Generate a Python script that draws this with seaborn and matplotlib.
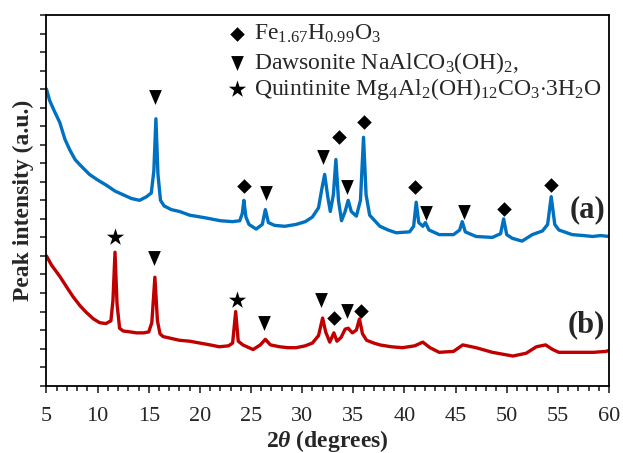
import matplotlib
matplotlib.use("Agg")
import matplotlib.pyplot as plt
import pandas as pd
import seaborn as sns

# XRD pattern (a): 2θ in degrees and intensity (arbitrary units, stacked offset)
two_theta_a = [5.0, 5.3, 5.7, 6.3, 6.8, 7.3, 7.8, 8.3, 9.2, 10.0, 10.9, 11.7, 12.5, 13.3, 14.1,
               14.8, 15.25, 15.5, 15.7, 15.9, 16.15, 16.5, 17.2, 18.0, 19.0, 20.6, 22.0, 23.2,
               23.9, 24.15, 24.3, 24.5, 24.8, 25.5, 26.1, 26.4, 26.7, 27.3, 28.3, 29.4, 30.3,
               31.0, 31.6, 31.95, 32.2, 32.5, 32.75, 33.05, 33.3, 33.55, 33.85, 34.2, 34.5,
               34.8, 35.3, 35.7, 36.0, 36.25, 36.6, 37.6, 38.4, 39.2, 40.5, 40.9, 41.15, 41.4,
               41.8, 42.05, 42.4, 43.4, 44.8, 45.4, 45.65, 45.95, 47.0, 48.6, 49.4, 49.7, 50.0,
               50.55, 51.5, 52.5, 53.5, 54.0, 54.35, 54.7, 55.1, 56.4, 57.5, 58.4, 59.2, 60.0]
intensity_a = [16.0, 15.4, 14.9, 14.2, 13.3, 12.7, 12.2, 11.9, 11.4, 11.1, 10.8, 10.5, 10.3, 10.1,
               10.0, 10.2, 10.4, 11.6, 14.4, 11.4, 10.0, 9.7, 9.5, 9.4, 9.2, 9.05, 8.9, 8.85,
               8.9, 9.3, 10.0, 9.1, 8.7, 8.45, 8.7, 9.5, 8.8, 8.65, 8.6, 8.7, 8.85,
               9.1, 9.6, 10.7, 11.4, 10.2, 9.4, 10.3, 12.2, 10.0, 8.9, 9.4, 10.0,
               9.4, 9.15, 10.0, 13.4, 10.3, 9.2, 8.6, 8.4, 8.25, 8.3, 8.6, 9.9, 8.8,
               8.6, 8.8, 8.4, 8.15, 8.15, 8.4, 8.85, 8.3, 8.05, 8.0, 8.2, 9.0, 8.15,
               7.95, 7.8, 8.15, 8.35, 8.7, 10.2, 8.7, 8.4, 8.15, 8.1, 8.05, 8.1, 8.05]

# XRD pattern (b)
two_theta_b = [5.0, 5.5, 6.3, 7.0, 7.6, 8.3, 8.9, 9.6, 10.2, 10.8, 11.3, 11.5, 11.7, 11.9, 12.15,
               12.5, 13.2, 13.8, 14.5, 15.0, 15.3, 15.6, 15.85, 16.1, 16.4, 17.2, 18.0, 19.0,
               20.0, 21.0, 21.9, 22.8, 23.2, 23.5, 23.75, 24.2, 25.2, 25.9, 26.4, 26.9, 27.8,
               28.6, 29.4, 30.3, 31.0, 31.6, 32.0, 32.3, 32.7, 33.1, 33.4, 33.8, 34.2, 34.5,
               34.9, 35.3, 35.6, 35.9, 36.3, 37.0, 37.6, 38.7, 39.8, 41.0, 41.8, 42.5, 43.4,
               44.8, 45.7, 47.0, 48.6, 49.6, 50.6, 51.9, 52.9, 53.8, 54.5, 55.1, 57.0, 58.5,
               59.7, 60.0]
intensity_b = [7.0, 6.5, 5.9, 5.3, 4.8, 4.3, 3.95, 3.6, 3.4, 3.35, 3.5, 4.6, 7.2, 4.4, 3.1,
               2.95, 2.9, 2.85, 2.85, 2.9, 3.4, 5.85, 3.5, 2.8, 2.65, 2.55, 2.45, 2.4,
               2.3, 2.2, 2.1, 2.15, 2.3, 4.0, 2.4, 2.2, 1.95, 2.2, 2.5, 2.2, 2.1,
               2.05, 2.05, 2.15, 2.3, 2.7, 3.65, 2.9, 2.35, 2.85, 2.4, 2.6, 3.05, 3.1,
               2.85, 3.0, 3.6, 2.8, 2.45, 2.3, 2.2, 2.1, 2.05, 2.15, 2.35, 2.05, 1.8,
               1.85, 2.2, 2.05, 1.8, 1.7, 1.6, 1.75, 2.1, 2.2, 1.95, 1.8, 1.8, 1.8,
               1.85, 1.9]

# Phase identification markers (2θ, height above the trace)
fe_oxide_x = [24.29, 33.56, 36.0, 41.08, 49.77, 54.36, 33.07, 35.8]
fe_oxide_y = [10.8, 13.44, 14.25, 10.74, 9.55, 10.85, 3.66, 4.03]
dawsonite_x = [15.6, 26.44, 32.0, 34.35, 42.06, 45.87, 15.5, 26.24, 31.8, 34.35]
dawsonite_y = [15.55, 10.4, 12.36, 10.74, 9.33, 9.39, 6.9, 3.39, 4.63, 4.03]
quintinite_x = [11.69, 23.6]
quintinite_y = [8.04, 4.63]

phase_labels = [r"Fe$_{1.67}$H$_{0.99}$O$_3$",
                r"Dawsonite NaAlCO$_3$(OH)$_2$,",
                r"Quintinite Mg$_4$Al$_2$(OH)$_{12}$CO$_3$$\cdot$3H$_2$O"]
sample_labels = ["(a)", "(b)"]
x_ticks = [5, 10, 15, 20, 25, 30, 35, 40, 45, 50, 55, 60]

BLUE = "#0070C0"
RED = "#C00000"

sns.set_style("ticks")
plt.rcParams["font.family"] = ["Liberation Serif", "DejaVu Serif"]
plt.rcParams["mathtext.fontset"] = "custom"
plt.rcParams["mathtext.rm"] = "Liberation Serif"
plt.rcParams["mathtext.it"] = "Liberation Serif:italic:bold"
plt.rcParams["mathtext.bf"] = "Liberation Serif:bold"

fig = plt.figure(figsize=(6.23, 4.53), dpi=100)
ax = fig.add_axes([0.0746, 0.1486, 0.9029, 0.8183])

df_a = pd.DataFrame({"two_theta": two_theta_a, "intensity": intensity_a})
df_b = pd.DataFrame({"two_theta": two_theta_b, "intensity": intensity_b})
sns.lineplot(data=df_a, x="two_theta", y="intensity", color=BLUE, lw=2.4,
             estimator=None, ax=ax)
sns.lineplot(data=df_b, x="two_theta", y="intensity", color=RED, lw=2.4,
             estimator=None, ax=ax)

tri = [(-0.85, 1.0), (0.85, 1.0), (0.0, -1.0)]
DIAMOND_S, TRI_S, STAR_S = 55, 115, 170
sns.scatterplot(x=fe_oxide_x, y=fe_oxide_y, marker="D", s=DIAMOND_S, color="black",
                linewidth=0, ax=ax, zorder=5)
sns.scatterplot(x=dawsonite_x, y=dawsonite_y, marker=tri, s=TRI_S, color="black",
                linewidth=0, ax=ax, zorder=5)
sns.scatterplot(x=quintinite_x, y=quintinite_y, marker="*", s=STAR_S, color="black",
                linewidth=0, ax=ax, zorder=5)

# Phase key in the upper right
key_x = 23.6
key_y = [19.0, 17.43, 16.0]
ax.scatter([key_x], [key_y[0]], marker="D", s=DIAMOND_S, color="black", linewidth=0)
ax.scatter([key_x], [key_y[1]], marker=tri, s=TRI_S, color="black", linewidth=0)
ax.scatter([key_x], [key_y[2]], marker="*", s=STAR_S, color="black", linewidth=0)
for lab, yy in zip(phase_labels, key_y):
    ax.text(25.3, yy, lab, fontsize=17, va="center", ha="left")

ax.text(59.6, 9.5, sample_labels[0], fontsize=22, fontweight="bold", ha="right", va="center")
ax.text(59.6, 3.3, sample_labels[1], fontsize=22, fontweight="bold", ha="right", va="center")

ax.set_xlim(5, 60)
ax.set_ylim(0, 20)
ax.set_xticks(x_ticks)
ax.set_xticks(range(5, 61), minor=True)
ax.set_yticks(range(0, 21))
ax.set_yticklabels([])
ax.tick_params(axis="x", which="major", direction="out", length=5, width=1.2,
               labelsize=16, pad=10, top=False)
ax.tick_params(axis="x", which="minor", direction="out", length=3.5, width=1.2, top=False)
ax.tick_params(axis="y", which="major", direction="out", length=4, width=1.2, right=False)
for sp in ax.spines.values():
    sp.set_visible(True)
    sp.set_linewidth(1.3)
    sp.set_color("black")

ax.set_xlabel(r"2$\theta$ (degrees)", fontsize=17, fontweight="bold", labelpad=2)
ax.set_ylabel("Peak intensity (a.u.)", fontsize=17, fontweight="bold", labelpad=1.5)

fig.savefig("out.png", dpi=100)
